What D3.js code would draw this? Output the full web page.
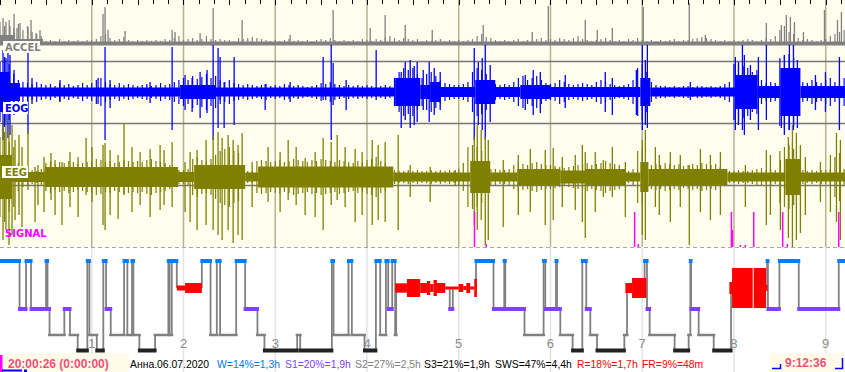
<!DOCTYPE html>
<html>
<head>
<meta charset="utf-8">
<script src="https://cdn.jsdelivr.net/npm/d3@7"></script>
<style>
  body { margin: 0; background: #fff; }
  svg { display: block; }
</style>
</head>
<body>
<svg id="chart" width="845" height="372"></svg>
<script>
// ---- data (time in hours from 20:00:26) ----
const totalHours = 9.21;
const hourMarks = [1, 2, 3, 4, 5, 6, 7, 8, 9];
const sampleStep = 0.05; // hours between texture samples

// ACCEL: core band [start, end, height], texture samples, spikes [time, height]
const accelEnv = [[0,0.164,9],[0.164,0.469,5],[0.469,9.21,2.5]];
const accelNoise = [22,18,24,16,20,14,18,12,10,8, 3,4,3,5,3,4,3,4,3,4, 4,5,8,10,6,4,5,7,4,3, 4,3,4,3,4,3,5,4,6,8, 4,5,6,4,5,8,5,4,5,4, 4,3,6,5,6,7,6,5,4,3, 4,3,4,5,3,4,3,4,3,4, 5,4,6,4,3,4,3,4,3,5, 4,3,5,4,6,8,6,4,6,5, 4,5,3,4,3,4,5,3,4,3, 4,3,4,5,8,10,7,6,4,3, 4,3,4,5,3,4,3,5,6,4, 5,4,6,5,4,6,8,5,4,3, 4,5,6,4,3,4,3,5,4,6, 4,3,4,3,4,3,4,5,3,4, 4,5,6,7,6,5,4,3,4,3, 4,3,4,5,4,3,4,6,5,8, 14,18,12,10,6,4,5,4,3,4, 5,8,10,12,14];
const accelSpikes = [[0.033,26],[0.065,22],[0.109,18],[0.153,30],[0.185,16],[0.218,21],[0.305,17],[0.338,24],[0.393,11],[0.436,14],[1.123,30],[1.145,37],[1.178,14],[1.363,13],[1.876,14],[1.908,12],[2.181,11],[2.323,36],[2.639,24],[3.162,9],[3.631,34],[4.035,16],[4.198,29],[4.417,19],[4.711,14],[5.267,19],[5.801,12],[5.976,38],[6.379,24],[6.51,14],[6.674,16],[7.012,37],[7.513,41],[7.688,9],[8.353,21],[8.517,19],[8.571,29],[8.615,27],[8.659,22],[8.757,12],[8.986,34],[9.128,24],[9.171,32]];

// EOG: core band [start, end, half-amplitude], texture samples, spikes [time, up, down]
const eogEnv = [[0,0.109,20],[0.109,0.218,9],[0.218,1.963,4.5],[1.963,2.345,7],[2.345,4.307,4.5],[4.307,4.58,14],[4.58,4.689,7],[4.689,4.798,10],[4.798,5.18,5],[5.18,5.398,12],[5.398,5.671,5],[5.671,5.998,7],[5.998,6.979,5],[6.979,7.088,14],[7.088,8.015,4.5],[8.015,8.255,17],[8.255,8.506,6],[8.506,8.724,24],[8.724,9.21,6]];
const eogNoise = [30,35,28,18,12,10,9,8,10,8, 7,8,6,9,7,8,6,7,9,7, 9,12,14,10,8,7,9,7,8,7, 6,7,8,6,7,9,7,8,10,12, 14,12,16,13,15,18,14,16,12,10, 12,9,8,7,8,7,6,7,8,6, 7,6,8,7,6,7,6,5,6,7, 9,8,10,8,7,6,7,6,7,6, 7,6,5,6,7,6,14,20,24,22, 24,18,14,18,20,16,12,9,8,7, 7,8,10,20,24,22,18,10,8,7, 8,7,10,14,16,12,14,16,12,9, 8,9,12,10,8,7,8,9,8,7, 10,12,10,8,7,6,7,8,12,24, 28,20,10,7,6,6,5,6,5,6, 6,5,6,6,5,6,5,6,8,10, 28,30,26,24,20,22,12,9,10,9, 34,36,38,35,12,10,9,12,10,9, 12,14,10,12,14];
const eogSpikes = [[0.033,42,48],[0.065,34,33],[0.087,45,46],[0.109,37,43],[0.153,22,23],[0.305,39,42],[0.349,14,12],[0.654,12,10],[1.069,14,12],[1.145,45,48],[1.2,12,16],[1.636,10,11],[1.876,45,38],[2.017,17,18],[2.094,14,20],[2.181,20,26],[2.257,22,21],[2.323,47,48],[2.377,44,36],[2.399,35,8],[2.443,10,36],[2.552,35,33],[2.89,8,18],[3.162,10,10],[3.522,35,8],[3.61,47,48],[3.631,29,13],[3.773,12,18],[4.1,42,8],[4.373,20,36],[4.417,30,28],[4.471,32,36],[4.515,26,33],[4.547,30,30],[4.613,22,18],[4.678,30,30],[4.733,24,23],[4.798,20,18],[5.169,44,48],[5.213,30,33],[5.256,34,38],[5.289,47,48],[5.343,27,30],[5.725,17,18],[5.812,22,23],[5.889,20,21],[6.161,17,16],[6.597,20,20],[6.674,14,23],[6.936,22,23],[7.001,47,38],[7.034,32,33],[7.056,47,36],[7.524,10,8],[8.015,35,38],[8.048,30,33],[8.092,47,38],[8.113,37,43],[8.179,27,28],[8.266,35,38],[8.353,47,28],[8.517,22,36],[8.549,37,43],[8.604,47,38],[8.648,47,38],[8.691,32,36],[8.888,17,18],[8.997,20,20],[9.149,35,38]];

// EEG
const eegEnv = [[0,0.131,22],[0.131,0.491,5],[0.491,1.941,10],[1.941,2.116,5],[2.116,2.672,12],[2.672,2.813,4.5],[2.813,4.286,10.5],[4.286,5.125,4.5],[5.125,5.343,16],[5.343,5.638,4.5],[5.638,6.107,8],[6.107,6.379,6.5],[6.379,6.816,8],[6.816,6.979,4.5],[6.979,7.067,15],[7.067,7.928,8],[7.928,8.56,4.5],[8.56,8.724,18],[8.724,9.21,4.5]];
const eegNoise = [40,45,35,30,14,10,8,7,6,8, 14,16,13,15,14,16,15,13,14,15, 16,18,17,15,16,14,15,17,16,15, 16,15,17,18,16,15,14,12,8,7, 7,8,18,20,17,16,18,22,26,28, 30,26,24,7,6,6,16,17,16,15, 16,17,15,16,18,17,16,15,17,16, 18,17,16,15,17,16,15,14,16,15, 17,18,20,16,14,8,7,6,6,7, 6,7,6,6,7,6,7,6,7,6, 8,14,30,32,30,26,10,8,8,7, 7,8,12,14,13,12,14,15,13,12, 12,11,10,9,10,11,12,13,14,12, 13,14,16,14,13,12,7,6,8,26, 28,14,12,13,12,14,13,12,13,11, 12,13,12,14,13,12,13,10,7,6, 6,7,6,6,7,8,9,7,8,7, 26,30,32,28,8,7,6,7,6,7, 7,8,20,24,8];
const eegSpikes = [[0.033,52,63],[0.065,57,53],[0.098,47,68],[0.131,52,58],[0.164,37,43],[0.207,42,38],[0.24,30,50],[0.305,47,13],[0.382,10,45],[0.414,12,28],[0.48,20,35],[0.556,24,23],[0.6,17,38],[0.676,15,48],[0.763,25,30],[0.851,20,40],[0.938,39,18],[1.003,30,25],[1.123,32,48],[1.145,34,53],[1.2,27,38],[1.287,22,42],[1.352,54,18],[1.439,30,35],[1.527,25,28],[1.636,28,40],[1.745,32,33],[1.788,27,28],[1.876,35,30],[2.017,15,35],[2.072,25,45],[2.148,27,53],[2.246,37,48],[2.323,42,53],[2.377,45,58],[2.421,39,63],[2.486,42,53],[2.541,37,66],[2.595,32,58],[2.639,44,63],[2.748,15,30],[2.922,30,25],[3.053,25,35],[3.141,37,23],[3.228,30,28],[3.326,19,38],[3.435,25,40],[3.522,39,53],[3.61,35,28],[3.675,42,23],[3.762,30,30],[3.871,28,45],[3.947,25,38],[4.057,37,48],[4.122,32,43],[4.198,35,45],[4.34,42,53],[4.471,12,20],[4.689,10,25],[4.962,7,9],[5.169,40,48],[5.202,52,53],[5.245,47,43],[5.289,40,68],[5.322,37,63],[5.485,17,50],[5.649,22,38],[5.78,28,35],[5.943,27,48],[6.03,29,43],[6.129,20,30],[6.27,22,33],[6.347,32,45],[6.379,25,61],[6.488,25,35],[6.576,17,20],[6.674,30,20],[6.816,15,40],[7.001,37,58],[7.034,47,63],[7.143,30,30],[7.186,22,38],[7.306,25,45],[7.415,22,30],[7.513,12,68],[7.634,28,35],[7.743,22,43],[7.852,25,38],[8.124,12,30],[8.353,27,48],[8.397,22,38],[8.506,17,53],[8.593,40,61],[8.637,52,70],[8.68,44,63],[8.724,32,56],[8.778,20,38],[8.942,15,25],[9.051,22,35],[9.117,44,45],[9.16,37,63]];

const signalSpikes = [[5.172,35],[5.3,3],[6.917,35],[6.957,3],[7.972,35],[7.983,17],[8.07,2],[8.124,2],[8.215,35],[8.531,35],[8.582,3],[9.142,35]];

// hypnogram: [stage, start]
const hypno = [["W",0],["S1",0.213],["W",0.284],["S1",0.338],["W",0.502],["S1",0.518],["S2",0.54],["S1",0.701],["S2",0.763],["S3",0.847],["W",0.952],["S2",0.974],["S3",1.055],["W",1.126],["S1",1.156],["S2",1.207],["W",1.352],["S2",1.388],["W",1.439],["S2",1.454],["S3",1.519],["S2",1.69],["W",1.835],["S2",1.848],["W",1.872],["R",1.927],["W",2.2],["S2",2.295],["W",2.363],["S2",2.399],["W",2.574],["S1",2.672],["S2",2.806],["S3",2.882],["S2",3.239],["S3",3.272],["W",3.617],["S2",3.635],["W",3.798],["S2",3.835],["S3",3.973],["W",4.097],["S2",4.144],["W",4.206],["S1",4.231],["W",4.275],["S2",4.307],["R",4.318],["S1",4.902],["R",4.935],["W",5.188],["S1",5.379],["W",5.496],["S1",5.507],["S2",5.717],["W",5.925],["S1",5.943],["W",6.06],["S1",6.071],["S2",6.107],["S3",6.241],["W",6.347],["S1",6.39],["S2",6.434],["S3",6.507],["S2",6.805],["R",6.834],["W",7.026],["S1",7.052],["S2",7.081],["S3",7.353],["S2",7.506],["W",7.524],["S1",7.532],["S2",7.615],["S3",7.779],["R",7.968],["W",8.361],["S1",8.37],["W",8.495],["S1",8.706],["W",9.142]];
// REM density blocks: [start, end, half-thickness]
const remBlocks = [[1.927,2.017,2.5],[2.017,2.2,5],[4.307,4.435,4.7],[4.435,4.58,9],[4.58,4.653,5],[4.653,4.689,7],[4.689,4.725,4],[4.725,4.762,8],[4.762,4.853,5],[4.853,4.998,1.5],[4.998,5.049,4],[5.049,5.082,2],[5.082,5.125,5],[5.125,5.169,1.5],[5.169,5.198,9],[6.816,6.889,5],[6.889,7.045,10],[7.95,7.993,6],[7.979,8.204,20],[8.215,8.35,20],[8.35,8.367,3]];

const stages = ["W", "R", "S1", "S2", "S3"];
const stageColors = ["#0a7cf2", "#ff0000", "#8040ff", "#808080", "#222222"];
const stageThick = [4, 0, 4, 2.5, 4];

const statParts = ["Анна.06.07.2020", "W=14%=1,3h", "S1=20%=1,9h", "S2=27%=2,5h", "S3=21%=1,9h", "SWS=47%=4,4h", "R=18%=1,7h", "FR=9%=48m"];
const statColors = ["#000", "#0a78f0", "#8040ff", "#808080", "#000", "#000", "#ff0000", "#ff0000"];
const startLabel = "20:00:26 (0:00:00)";
const endLabel = "9:12:36";

// ---- drawing ----
const width = 845, height = 372;
const svg = d3.select("#chart");
const x = d3.scaleLinear().domain([0, totalHours]).range([0, width]);

const yAccel = d3.scaleLinear().domain([0, 50]).range([44, -6]);
const yEog = d3.scaleLinear().domain([-50, 50]).range([142, 42]);
const yEeg = d3.scaleLinear().domain([-70, 70]).range([247, 107]);
const ySig = d3.scaleLinear().domain([0, 40]).range([247, 207]);
const yStage = d3.scaleOrdinal().domain(stages).range([261, 288, 309, 335, 350.5]);
const stageColor = d3.scaleOrdinal().domain(stages).range(stageColors);
const stageWidth = d3.scaleOrdinal().domain(stages).range(stageThick);

// backgrounds
svg.append("rect").attr("width", width).attr("height", 248).attr("fill", "#fffdee");
svg.append("rect").attr("y", 248).attr("width", width).attr("height", 124).attr("fill", "#fff");

// grid: hour lines
svg.selectAll(".vgrid").data(hourMarks).join("line")
  .attr("x1", d => x(d)).attr("x2", d => x(d))
  .attr("y1", 0).attr("y2", 247)
  .attr("stroke", "#b6b290").attr("stroke-width", 1.5);
svg.selectAll(".vgrid2").data(hourMarks).join("line")
  .attr("x1", d => x(d)).attr("x2", d => x(d))
  .attr("y1", 248).attr("y2", height)
  .attr("stroke", "#e4e4e4").attr("stroke-width", 1.5);

// channel separators
svg.selectAll(".hsep").data([61, 123, 185]).join("line")
  .attr("x1", 0).attr("x2", width)
  .attr("y1", d => d + 0.5).attr("y2", d => d + 0.5)
  .attr("stroke", "#787878").attr("stroke-width", 1.3);

// top ticks every 10 min
const ticks = d3.range(0, totalHours, 1 / 6);
svg.selectAll(".tick").data(ticks).join("line")
  .attr("x1", d => Math.round(x(d)) + 0.5).attr("x2", d => Math.round(x(d)) + 0.5)
  .attr("y1", 0).attr("y2", (d, i) => i % 3 === 0 ? 5 : 4)
  .attr("stroke", "#000").attr("stroke-width", 1);

// generic trace drawer: core band, texture comb, spikes
function drawTrace(color, y, env, noise, spikes, oneSided) {
  const g = svg.append("g");
  g.selectAll("rect").data(env).join("rect")
    .attr("x", d => x(d[0])).attr("width", d => x(d[1]) - x(d[0]))
    .attr("y", d => y(d[2])).attr("height", d => (oneSided ? y(-1.5) : y(-d[2])) - y(d[2]))
    .attr("fill", color);
  g.selectAll(".nz").data(noise).join("line")
    .attr("x1", (d, i) => x(i * sampleStep)).attr("x2", (d, i) => x(i * sampleStep))
    .attr("y1", d => y(d)).attr("y2", d => oneSided ? y(0) : y(-d))
    .attr("stroke", color).attr("stroke-width", 1.2);
  g.selectAll(".sp").data(spikes).join("line")
    .attr("x1", d => x(d[0])).attr("x2", d => x(d[0]))
    .attr("y1", d => y(d[1])).attr("y2", d => oneSided ? y(0) : y(-d[2]))
    .attr("stroke", color).attr("stroke-width", 1.3);
}
drawTrace("#808080", yAccel, accelEnv, accelNoise, accelSpikes, true);
drawTrace("#0000ff", yEog, eogEnv, eogNoise, eogSpikes, false);
drawTrace("#808000", yEeg, eegEnv, eegNoise, eegSpikes, false);

// SIGNAL
svg.append("g").selectAll("line").data(signalSpikes).join("line")
  .attr("x1", d => x(d[0])).attr("x2", d => x(d[0]))
  .attr("y1", d => ySig(d[1])).attr("y2", ySig(0))
  .attr("stroke", "#ff00ff").attr("stroke-width", 1.5);

// dashed separator
svg.append("line").attr("x1", 0).attr("x2", width).attr("y1", 247.5).attr("y2", 247.5)
  .attr("stroke", "#a6a6a6").attr("stroke-dasharray", "4,3");

// channel labels
const chLabels = [
  { name: "ACCEL", color: "#808080", y: 51, box: [3, 41, 37, 12] },
  { name: "EOG", color: "#0000ff", y: 112, box: [3, 102, 25, 12] },
  { name: "EEG", color: "#808000", y: 175.5, box: [2, 166, 26, 12] },
  { name: "SIGNAL", color: "#ff00ff", y: 236.5, box: null }
];
chLabels.forEach(l => {
  if (l.box) {
    svg.append("rect").attr("x", l.box[0]).attr("y", l.box[1]).attr("width", l.box[2]).attr("height", l.box[3])
      .attr("fill", "#fffff6");
  }
  svg.append("text").attr("x", 5).attr("y", l.y).text(l.name)
    .attr("fill", l.color).attr("font-family", "DejaVu Sans").attr("font-weight", "bold").attr("font-size", "10px");
});

// hour numbers
svg.selectAll(".hlab").data(hourMarks).join("text")
  .attr("x", d => x(d)).attr("y", 347.5).attr("text-anchor", "middle")
  .attr("fill", "#8c8c8c").attr("font-family", "Liberation Sans").attr("font-size", "13px")
  .text(d => d);

// hypnogram
const segs = hypno.map((d, i) => ({ stage: d[0], start: d[1], end: i < hypno.length - 1 ? hypno[i + 1][1] : totalHours }));
svg.append("g").selectAll("line").data(segs.slice(1)).join("line")
  .attr("x1", d => x(d.start)).attr("x2", d => x(d.start))
  .attr("y1", (d, i) => yStage(segs[i].stage)).attr("y2", d => yStage(d.stage))
  .attr("stroke", "#808080").attr("stroke-width", 1.8);
svg.append("g").selectAll("rect").data(segs.filter(d => d.stage !== "R")).join("rect")
  .attr("x", d => x(d.start) - 1.5).attr("width", d => x(d.end) - x(d.start) + 3)
  .attr("y", d => yStage(d.stage) - stageWidth(d.stage) / 2).attr("height", d => stageWidth(d.stage))
  .attr("fill", d => stageColor(d.stage));
svg.append("g").selectAll("rect").data(remBlocks).join("rect")
  .attr("x", d => x(d[0])).attr("width", d => x(d[1]) - x(d[0]))
  .attr("y", d => yStage("R") - d[2]).attr("height", d => d[2] * 2)
  .attr("fill", stageColor("R"));

// status bar
svg.append("rect").attr("x", 2.5).attr("y", 353).attr("width", 126).attr("height", 19).attr("fill", "#fffbe8");
svg.append("rect").attr("x", 0).attr("y", 355).attr("width", 2.5).attr("height", 17).attr("fill", "#ff00ff");
svg.append("rect").attr("x", 2).attr("y", 369.5).attr("width", 20).attr("height", 2).attr("fill", "#0000ff");
svg.append("rect").attr("x", 24).attr("y", 369.5).attr("width", 3).attr("height", 2.5).attr("fill", "#0000ff");
svg.append("text").attr("x", 8).attr("y", 367.5).text(startLabel)
  .attr("fill", "#f05078").attr("font-family", "Liberation Sans").attr("font-weight", "bold").attr("font-size", "12px");

const statX = [130, 217, 285, 355, 424, 495, 577, 642];
svg.selectAll(".stat").data(statParts).join("text")
  .attr("x", (d, i) => statX[i]).attr("y", 367.5)
  .attr("fill", (d, i) => statColors[i])
  .attr("font-family", "Liberation Sans").attr("font-size", "10.4px")
  .text(d => d);

svg.append("rect").attr("x", 770).attr("y", 353).attr("width", 73).attr("height", 19).attr("fill", "#fffbe8");
svg.append("text").attr("x", 785).attr("y", 367).text(endLabel)
  .attr("fill", "#f05078").attr("font-family", "Liberation Sans").attr("font-weight", "bold").attr("font-size", "12px");
const gB = svg.append("g").attr("stroke", "#0000ff").attr("stroke-width", 1.5).attr("fill", "none");
gB.append("path").attr("d", "M772,368.5H780.5V364");
gB.append("path").attr("d", "M835,368.5H842.5V358");
</script>
</body>
</html>
